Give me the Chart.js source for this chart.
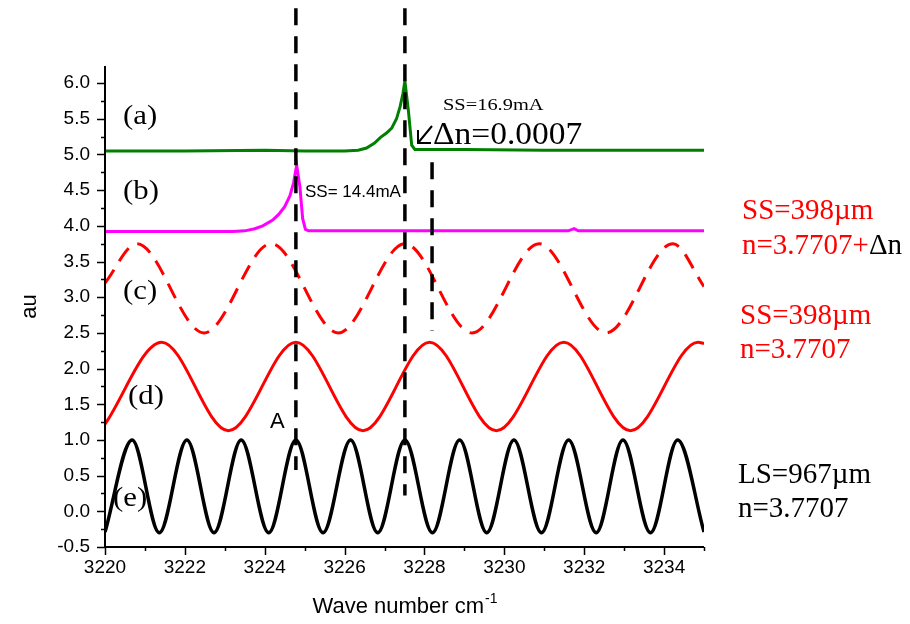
<!DOCTYPE html>
<html>
<head>
<meta charset="utf-8">
<script src="https://cdn.jsdelivr.net/npm/chart.js@4.4.1/dist/chart.umd.min.js"></script>
<style>
  html, body { margin: 0; padding: 0; background: #fff; }
  canvas { display: block; }
</style>
</head>
<body>
<canvas id="c" width="910" height="624"></canvas>
<script>
// Axis ranges and tick labels
const xMin = 3220, xMax = 3235;
const yMin = -0.5, yMax = 6.24;
const xTickValues = [3220, 3222, 3224, 3226, 3228, 3230, 3232, 3234];
const yTickValues = [-0.5, 0.0, 0.5, 1.0, 1.5, 2.0, 2.5, 3.0, 3.5, 4.0, 4.5, 5.0, 5.5, 6.0];

// (a) measured spectrum, SS = 16.9 mA
const specAx = [3220, 3222, 3224, 3225, 3226.0, 3226.34, 3226.55, 3226.75, 3226.9, 3227.05, 3227.18, 3227.3, 3227.39, 3227.46, 3227.51, 3227.6, 3227.68, 3227.76, 3229, 3231, 3233, 3235];
const specAy = [5.05, 5.05, 5.06, 5.05, 5.05, 5.06, 5.09, 5.16, 5.24, 5.30, 5.37, 5.50, 5.67, 5.85, 6.03, 5.60, 5.13, 5.07, 5.07, 5.06, 5.06, 5.06];

// (b) measured spectrum, SS = 14.4 mA
const specBx = [3220, 3222, 3223.2, 3223.5, 3223.75, 3223.95, 3224.2, 3224.35, 3224.5, 3224.63, 3224.72, 3224.8, 3224.88, 3224.95, 3225.02, 3225.1, 3227, 3229, 3231.6, 3231.75, 3231.85, 3233, 3235];
const specBy = [3.92, 3.92, 3.92, 3.93, 3.96, 4.00, 4.08, 4.16, 4.27, 4.42, 4.60, 4.85, 4.55, 4.10, 3.95, 3.93, 3.93, 3.93, 3.93, 3.96, 3.93, 3.93, 3.93];

// (c) short section, n = 3.7707 + dn (turning points)
const combCx = [3220, 3220.8, 3222.48, 3224.16, 3225.84, 3227.51, 3229.19, 3230.87, 3232.55, 3234.22, 3235];
const combCy = [3.20, 3.75, 2.50, 3.75, 2.50, 3.75, 2.50, 3.75, 2.50, 3.75, 3.15];

// (d) short section, n = 3.7707 (turning points)
const combDx = [3220, 3221.42, 3223.09, 3224.78, 3226.46, 3228.13, 3229.8, 3231.49, 3233.16, 3234.85, 3235];
const combDy = [1.22, 2.37, 1.13, 2.37, 1.13, 2.37, 1.13, 2.37, 1.13, 2.37, 2.35];

// (e) long section, n = 3.7707 (turning points)
const combEx = [3220, 3220.68, 3221.36, 3222.05, 3222.73, 3223.41, 3224.1, 3224.78, 3225.46, 3226.15, 3226.83, 3227.51, 3228.2, 3228.88, 3229.56, 3230.24, 3230.93, 3231.61, 3232.3, 3232.97, 3233.66, 3234.34, 3235];
const combEy = [-0.29, 1.0, -0.3, 1.0, -0.3, 1.0, -0.3, 1.0, -0.3, 1.0, -0.3, 1.0, -0.3, 1.0, -0.3, 1.0, -0.3, 1.0, -0.3, 1.0, -0.3, 1.0, -0.29];

// dashed marker lines: position and vertical span (au)
const markerX = [3224.78, 3227.51, 3228.19];
const markerTop = [7.05, 7.05, 4.89];
const markerBottom = [0.58, 0.22, 2.53];

const pts = (xs, ys) => xs.map((x, i) => ({ x, y: ys[i] }));

const SERIF = '"Liberation Serif", "Times New Roman", serif';
const SANS = '"Liberation Sans", Arial, sans-serif';

function drawText(ctx, text, x, y, font, color, sx) {
  ctx.save();
  ctx.font = font;
  ctx.fillStyle = color;
  ctx.textBaseline = 'alphabetic';
  ctx.textAlign = 'left';
  ctx.translate(x, y);
  ctx.scale(sx || 1, 1);
  ctx.fillText(text, 0, 0);
  ctx.restore();
}

const overlay = {
  id: 'overlay',
  afterDatasetsDraw(chart) {
    const { ctx, chartArea: a, scales: { x, y } } = chart;
    ctx.save();

    // axis lines
    ctx.strokeStyle = '#000';
    ctx.lineWidth = 2;
    ctx.setLineDash([]);
    ctx.beginPath();
    ctx.moveTo(a.left, a.top);
    ctx.lineTo(a.left, a.bottom);
    ctx.lineTo(a.right, a.bottom);
    ctx.stroke();

    // y ticks: major at labels, minor halfway
    ctx.lineWidth = 1.5;
    ctx.beginPath();
    yTickValues.forEach((v, i) => {
      const py = Math.round(y.getPixelForValue(v)) + 0.5;
      ctx.moveTo(a.left - 8, py); ctx.lineTo(a.left, py);
      if (i < yTickValues.length - 1) {
        const pm = Math.round(y.getPixelForValue((v + yTickValues[i + 1]) / 2)) + 0.5;
        ctx.moveTo(a.left - 4, pm); ctx.lineTo(a.left, pm);
      }
    });
    // x ticks
    xTickValues.forEach((v) => {
      const px = Math.round(x.getPixelForValue(v)) + 0.5;
      ctx.moveTo(px, a.bottom); ctx.lineTo(px, a.bottom + 8);
      const pm = Math.round(x.getPixelForValue(v + 1)) + 0.5;
      ctx.moveTo(pm, a.bottom); ctx.lineTo(pm, a.bottom + 4);
    });
    ctx.stroke();

    // dashed marker lines
    ctx.lineWidth = 3.5;
    ctx.strokeStyle = '#000';
    ctx.setLineDash([17, 11]);
    markerX.forEach((mx, i) => {
      const px = x.getPixelForValue(mx);
      ctx.beginPath();
      ctx.moveTo(px, y.getPixelForValue(markerTop[i]));
      ctx.lineTo(px, y.getPixelForValue(markerBottom[i]));
      ctx.stroke();
    });
    ctx.setLineDash([]);

    // curve tags
    const tagFont = '28px ' + SERIF;
    drawText(ctx, '(a)', 123, 124, tagFont, '#000', 1.1);
    drawText(ctx, '(b)', 123, 199, tagFont, '#000', 1.1);
    drawText(ctx, '(c)', 123, 299, tagFont, '#000', 1.1);
    drawText(ctx, '(d)', 128, 404, tagFont, '#000', 1.1);
    drawText(ctx, '(e)', 113, 506, tagFont, '#000', 1.1);
    drawText(ctx, 'A', 270, 428, '22px ' + SANS, '#000', 1);

    // currents and index shift
    drawText(ctx, 'SS=16.9mA', 443, 110, '17px ' + SERIF, '#000', 1.2);
    drawText(ctx, '\u0394n=0.0007', 433, 144, '31px ' + SERIF, '#000', 1.08);
    drawText(ctx, 'SS= 14.4mA', 305, 197, '17px ' + SANS, '#000', 1);

    // arrow pointing down-left
    ctx.lineWidth = 2;
    ctx.beginPath();
    ctx.moveTo(432, 126); ctx.lineTo(418, 143);
    ctx.moveTo(418, 130); ctx.lineTo(418, 143); ctx.lineTo(431, 143);
    ctx.stroke();

    // right-hand legend text
    const legFont = '29px ' + SERIF;
    drawText(ctx, 'SS=398\u00b5m', 742, 219, legFont, '#ff0000', 1);
    ctx.font = legFont;
    const w1 = ctx.measureText('n=3.7707+').width;
    drawText(ctx, 'n=3.7707+', 742, 254, legFont, '#ff0000', 1);
    drawText(ctx, '\u0394n', 742 + w1, 254, legFont, '#000', 1);
    drawText(ctx, 'SS=398\u00b5m', 740, 324, legFont, '#ff0000', 1);
    drawText(ctx, 'n=3.7707', 740, 358, legFont, '#ff0000', 1);
    drawText(ctx, 'LS=967\u00b5m', 738, 483, legFont, '#000', 1);
    drawText(ctx, 'n=3.7707', 738, 517, legFont, '#000', 1);

    // axis titles
    ctx.save();
    ctx.font = '22px ' + SANS;
    ctx.fillStyle = '#000';
    ctx.textAlign = 'center';
    ctx.textBaseline = 'middle';
    ctx.translate(30, (a.top + a.bottom) / 2);
    ctx.rotate(-Math.PI / 2);
    ctx.fillText('au', 0, 0);
    ctx.restore();

    ctx.save();
    ctx.font = '22px ' + SANS;
    const tMain = 'Wave number cm';
    const wm = ctx.measureText(tMain).width;
    ctx.font = '14px ' + SANS;
    const ws = ctx.measureText('-1').width;
    const cx = (a.left + a.right) / 2;
    const x0 = cx - (wm + ws) / 2;
    drawText(ctx, tMain, x0, 613, '22px ' + SANS, '#000', 1);
    drawText(ctx, '-1', x0 + wm + 1, 603, '14px ' + SANS, '#000', 1);
    ctx.restore();

    ctx.restore();
  }
};

new Chart(document.getElementById('c'), {
  type: 'line',
  data: {
    datasets: [
      { data: pts(specAx, specAy), borderColor: '#007f00', borderWidth: 3, tension: 0 },
      { data: pts(specBx, specBy), borderColor: '#ff00ff', borderWidth: 3, tension: 0 },
      { data: pts(combCx, combCy), borderColor: '#ff0000', borderWidth: 3, borderDash: [16, 10], cubicInterpolationMode: 'monotone' },
      { data: pts(combDx, combDy), borderColor: '#ff0000', borderWidth: 3, cubicInterpolationMode: 'monotone' },
      { data: pts(combEx, combEy), borderColor: '#000000', borderWidth: 3.5, cubicInterpolationMode: 'monotone' }
    ]
  },
  options: {
    responsive: false,
    animation: false,
    devicePixelRatio: 1,
    layout: { padding: { left: 0, top: 66, right: 206, bottom: 0 } },
    elements: { point: { radius: 0 }, line: { fill: false, borderCapStyle: 'butt' } },
    plugins: { legend: { display: false }, tooltip: { enabled: false } },
    scales: {
      x: {
        type: 'linear', min: xMin, max: xMax,
        grid: { display: false }, border: { display: false },
        afterBuildTicks: (s) => { s.ticks = xTickValues.map(v => ({ value: v })); },
        afterFit: (s) => { s.height = 77; },
        ticks: { padding: 1, color: '#000', font: { family: SANS, size: 19 }, callback: (v) => String(v), maxRotation: 0, autoSkip: false }
      },
      y: {
        type: 'linear', min: yMin, max: yMax,
        grid: { display: false }, border: { display: false },
        afterBuildTicks: (s) => { s.ticks = yTickValues.map(v => ({ value: v })); },
        afterFit: (s) => { s.width = 105; },
        ticks: { padding: 7, color: '#000', font: { family: SANS, size: 19 }, callback: (v) => v.toFixed(1), autoSkip: false }
      }
    }
  },
  plugins: [overlay]
});
</script>
</body>
</html>
